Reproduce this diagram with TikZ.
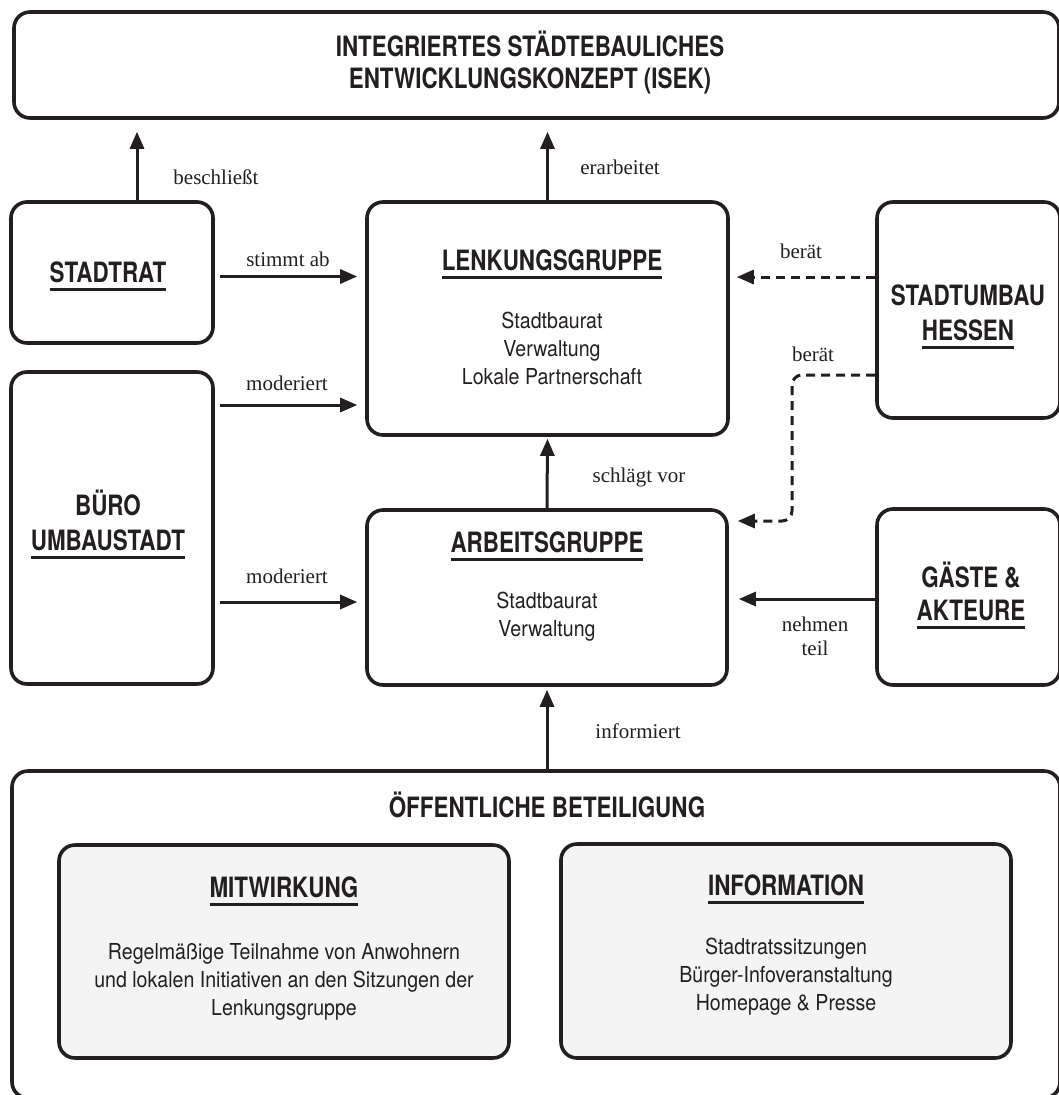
\documentclass[tikz,border=0pt]{standalone}
\usepackage{fontspec}
\setmainfont{Liberation Serif}
\newfontfamily\condfont[FakeStretch=0.8]{TeX Gyre Heros}
\newfontfamily\narrowfont[FakeStretch=0.89]{TeX Gyre Heros}
\usetikzlibrary{arrows.meta}
\definecolor{ink}{RGB}{35,31,32}
\definecolor{paper}{RGB}{244,244,244}
\newcommand{\headfnt}{\condfont\bfseries\fontsize{28}{28}\selectfont}
\newcommand{\bodyfnt}{\narrowfont\fontsize{22}{28}\selectfont}
\newcommand{\lblfnt}{\fontsize{21}{24}\selectfont}
\newcommand{\ulhead}[1]{\setbox0\hbox{#1}\rlap{\raisebox{-8.5pt}{\rule{\wd0}{2.5pt}}}\box0}
\tikzstyle{box}=[draw=ink,line width=3.6pt,rounded corners=16pt,inner sep=0pt]
\tikzstyle{gray box}=[box,fill=paper]
\tikzstyle{head}=[font=\headfnt,text=ink,align=center,inner sep=0pt,anchor=base]
\tikzstyle{body}=[font=\bodyfnt,text=ink,align=center,inner sep=0pt,anchor=base]
\tikzstyle{lbl}=[font=\lblfnt,text=ink,align=center,inner sep=0pt,anchor=base]
\tikzstyle{arrow}=[draw=ink,line width=3pt,-{Triangle[length=17pt,width=14pt]}]
\tikzstyle{dashed arrow}=[arrow,dash pattern=on 9pt off 6pt]
\begin{document}
\begin{tikzpicture}[x=1pt,y=-1pt]
        \useasboundingbox (0,0) rectangle (1059,1095);
        \clip (0,0) rectangle (1059,1095);
        % boxes
        \node[box,minimum width=1045pt,minimum height=106pt] (isek) at (536.5,65) {};
        \node[box,minimum width=202pt,minimum height=141pt] (stadtrat) at (112,272.5) {};
        \node[box,minimum width=202pt,minimum height=312pt] (buero) at (112,528) {};
        \node[box,minimum width=361pt,minimum height=233pt] (lenk) at (547.5,318.5) {};
        \node[box,minimum width=360pt,minimum height=175pt] (arbeit) at (547,597.5) {};
        \node[box,minimum width=183pt,minimum height=216pt] (stadtumbau) at (968.5,310) {};
        \node[box,minimum width=183pt,minimum height=176pt] (gaeste) at (968.5,597) {};
        \node[box,minimum width=1048pt,minimum height=327pt] (public) at (536,934.5) {};
        \node[gray box,minimum width=450pt,minimum height=213pt] (mitwirkung) at (284,951.5) {};
        \node[gray box,minimum width=450pt,minimum height=214pt] (inform) at (786,951) {};
        % texts (base = last line)
        \node[head] (isektext) at (530,88) {INTEGRIERTES STÄDTEBAULICHES\\[4pt]ENTWICKLUNGSKONZEPT (ISEK)};
        \node[head] (stadtrattext) at (108,282) {\ulhead{STADTRAT}};
        \node[head] (buerotext) at (108,550) {BÜRO\\[7pt]\ulhead{UMBAUSTADT}};
        \node[head] (lenktext) at (552,270) {\ulhead{LENKUNGSGRUPPE}};
        \node[body] (lenkbody) at (552,384) {Stadtbaurat\\Verwaltung\\Lokale Partnerschaft};
        \node[head] (arbeittext) at (547,552) {\ulhead{ARBEITSGRUPPE}};
        \node[body] (arbeitbody) at (547,636) {Stadtbaurat\\Verwaltung};
        \node[head] (stadtumbautext) at (968,340) {STADTUMBAU\\[7pt]\ulhead{HESSEN}};
        \node[head] (gaestetext) at (971,620) {GÄSTE \&\\[5pt]\ulhead{AKTEURE}};
        \node[head] (publictext) at (547,817) {ÖFFENTLICHE BETEILIGUNG};
        \node[head] (mitwirkungtext) at (284,897) {\ulhead{MITWIRKUNG}};
        \node[body] (mitwirkungbody) at (284,1015) {Regelmäßige Teilnahme von Anwohnern\\und lokalen Initiativen an den Sitzungen der\\Lenkungsgruppe};
        \node[head] (informtext) at (786,895) {\ulhead{INFORMATION}};
        \node[body] (informbody) at (786,1010) {Stadtratssitzungen\\Bürger-Infoveranstaltung\\Homepage \& Presse};
        % connectors
        \draw[arrow,shorten >=12pt] ([xshift=25pt]stadtrat.north) -- ([xshift=25pt]stadtrat.north |- isek.south);
        \draw[arrow,shorten >=12pt] (lenk.north) -- (lenk.north |- isek.south);
        \draw[arrow,shorten <=5pt,shorten >=8pt] ([yshift=-4pt]stadtrat.east) -- ([yshift=-4pt]stadtrat.east -| lenk.west);
        \draw[arrow,shorten <=5pt,shorten >=8pt] ([yshift=123pt]buero.east) -- ([yshift=123pt]buero.east -| lenk.west);
        \draw[arrow,shorten <=5pt,shorten >=8pt] ([yshift=-74pt]buero.east) -- ([yshift=-74pt]buero.east -| arbeit.west);
        \draw[arrow,shorten >=2pt] (arbeit.north) -- (lenk.south);
        \draw[arrow,shorten >=3pt] (arbeit.south |- public.north) -- (arbeit.south);
        \draw[arrow,shorten >=10pt] ([yshift=-2pt]gaeste.west) -- ([yshift=-2pt]gaeste.west -| arbeit.east);
        \draw[dashed arrow,shorten >=7pt] ([yshift=33pt]stadtumbau.west) -- ([yshift=33pt]stadtumbau.west -| lenk.east);
        \coordinate (bend) at (792,521);
        \draw[dashed arrow,rounded corners=10pt,shorten >=9pt] ([yshift=-65pt]stadtumbau.west) -| (bend) -- (bend -| arbeit.east);
        % labels
        \node[lbl] (beschliesst) at (216,184) {beschließt};
        \node[lbl] (erarbeitet) at (620,174) {erarbeitet};
        \node[lbl] (stimmtab) at (288,266) {stimmt ab};
        \node[lbl] (moderiert1) at (287,390) {moderiert};
        \node[lbl] (moderiert2) at (287,583) {moderiert};
        \node[lbl] (schlaegt) at (639,482) {schlägt vor};
        \node[lbl] (informiert) at (638,738) {informiert};
        \node[lbl] (beraet1) at (801,258) {berät};
        \node[lbl] (beraet2) at (813,361) {berät};
        \node[lbl] (nehmen) at (815,655) {nehmen\\teil};
\end{tikzpicture}
\end{document}
